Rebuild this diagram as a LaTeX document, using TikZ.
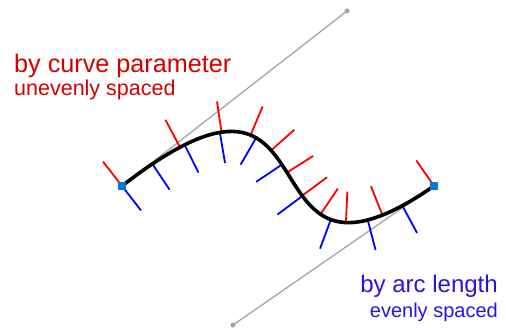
\documentclass[tikz,border=0pt]{standalone}
\usepackage{fontspec}
\setmainfont{Liberation Sans}
\usetikzlibrary{decorations.markings}
\definecolor{txtred}{RGB}{210,0,0}
\definecolor{txtblue}{RGB}{40,20,220}
\definecolor{tickred}{RGB}{255,0,0}
\definecolor{tickblue}{RGB}{0,0,255}
\definecolor{ptblue}{RGB}{0,120,220}
\definecolor{ctrlgray}{RGB}{165,165,165}
\tikzset{
  ctrlline/.style={draw=ctrlgray, line width=1.3pt},
  ctrldot/.style={circle, fill=ctrlgray, inner sep=0pt, minimum size=5pt},
  redtick/.style={draw=tickred, line width=1.8pt},
  bluetick/.style={draw=tickblue, line width=1.8pt},
  curveline/.style={draw=black, line width=3.6pt},
  endpt/.style={rectangle, fill=ptblue, inner sep=0pt, minimum size=8.5pt},
  bigred/.style={anchor=base west, inner sep=0pt, text=txtred, font=\fontsize{25.2}{25}\selectfont},
  smallred/.style={anchor=base west, inner sep=0pt, text=txtred, font=\fontsize{21.5}{21}\selectfont},
  bigblue/.style={anchor=base east, inner sep=0pt, text=txtblue, font=\fontsize{24}{24}\selectfont},
  smallblue/.style={anchor=base east, inner sep=0pt, text=txtblue, font=\fontsize{20}{20}\selectfont},
}
\begin{document}
\begin{tikzpicture}[x=1pt,y=-1pt]
\useasboundingbox (0,0) rectangle (506,327);
\coordinate (P0) at (122,186);
\coordinate (P1) at (347,11);
\coordinate (P2) at (233,325);
\coordinate (P3) at (434,186);
% control polygon
\draw[ctrlline] (P0) -- (P1);
\draw[ctrlline] (P3) -- (P2);
\node[ctrldot] (C1) at (P1) {};
\node[ctrldot] (C2) at (P2) {};
% red ticks: equal steps of the curve parameter
\foreach \i in {0,...,10} {
  \pgfmathsetmacro\tp{\i/10}
  \pgfmathsetmacro\up{1-\tp}
  \pgfmathsetmacro\bx{\up^3*122 + 3*\up^2*\tp*347 + 3*\up*\tp^2*233 + \tp^3*434}
  \pgfmathsetmacro\by{\up^3*186 + 3*\up^2*\tp*11 + 3*\up*\tp^2*325 + \tp^3*186}
  \pgfmathsetmacro\ddx{3*\up^2*(2.25) + 6*\up*\tp*(-1.14) + 3*\tp^2*(2.01)}
  \pgfmathsetmacro\ddy{3*\up^2*(-1.75) + 6*\up*\tp*(3.14) + 3*\tp^2*(-1.39)}
  \pgfmathsetmacro\dl{veclen(\ddx,\ddy)}
  \draw[redtick] (\bx,\by) -- ++(31*\ddy/\dl, -31*\ddx/\dl);
}
% blue ticks: equal steps of arc length
\path[postaction={decorate, decoration={markings,
    mark=between positions 0 and 0.95 step 0.1 with {\draw[bluetick] (0,0) -- (0,-31pt);},
    mark=at position 0.99999 with {\draw[bluetick] (0,0) -- (0,-31pt);}}}]
  (P0) .. controls (P1) and (P2) .. (P3);
% the curve
\draw[curveline] (P0) .. controls (P1) and (P2) .. (P3);
\node[endpt] (E0) at (P0) {};
\node[endpt] (E1) at (P3) {};
% labels
\node[bigred] (L1) at (14,72.5) {by curve parameter};
\node[smallred] (L2) at (14,95) {unevenly spaced};
\node[bigblue] (L3) at (498,292) {by arc length};
\node[smallblue] (L4) at (498,317) {evenly spaced};
\end{tikzpicture}
\end{document}
